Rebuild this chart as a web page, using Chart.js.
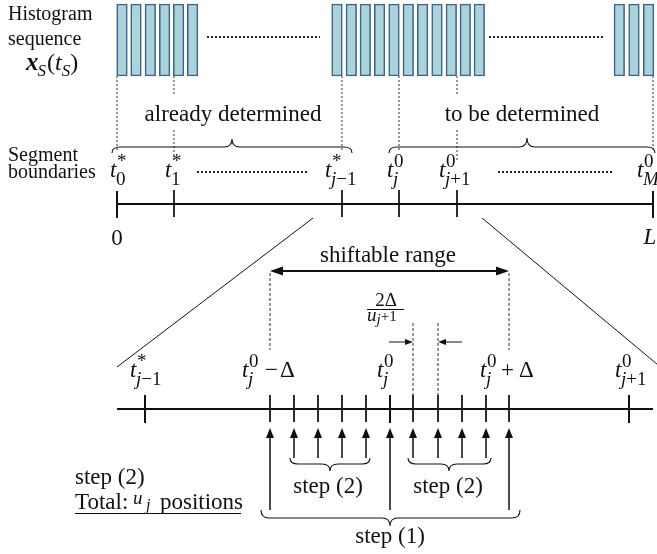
<!DOCTYPE html>
<html>
<head>
<meta charset="utf-8">
<script src="https://cdn.jsdelivr.net/npm/chart.js@4/dist/chart.umd.min.js"></script>
<style>
  html, body { margin: 0; padding: 0; background: #ffffff; }
  canvas { display: block; }
</style>
</head>
<body>
<canvas id="c" width="657" height="554"></canvas>
<script>
// Diagram coordinates: x runs 0..657, y runs 0..554 downward.

// Histogram sequence x_S(t_S): start of each bin in the three visible runs
const binStartsFirst  = [116.7, 130.7, 145, 159.3, 173.3, 187.3];
const binStartsMiddle = [331.7, 346, 360, 374.3, 388.7, 403, 417.3, 431.7, 446, 460, 474];
const binStartsLast   = [614, 628.7, 643.3];
const binSpan = [4, 76];          // top / bottom of every bin
const binWidth = 10.6;

// Segment boundaries on the signal axis: t0*, t1*, t*_{j-1}, t0_j, t0_{j+1}, t0_M
const boundaryX = [117, 174, 342, 399, 457, 653];
const boundaryEnds = [117, 653];  // 0 and L

// Zoomed axis around t0_j
const zoomMajorX  = [145, 390, 629];             // t*_{j-1}, t0_j, t0_{j+1}
const step1X      = [270, 390, 509];             // t0_j - Δ, t0_j, t0_j + Δ
const step2LeftX  = [294, 318, 342, 366];
const step2RightX = [413, 438, 462, 486];

const SERIF = '"Liberation Serif", "Times New Roman", "DejaVu Serif", serif';
const INK = '#111111';

function segs(list) {
  const out = [];
  list.forEach(([x1, y1, x2, y2]) => {
    out.push({ x: x1, y: y1 }, { x: x2, y: y2 }, { x: x2, y: null });
  });
  return out;
}
function lineSet(label, list, width, color, dash) {
  return {
    type: 'line', label, data: segs(list),
    borderColor: color, borderWidth: width, borderDash: dash || [],
    borderCapStyle: 'butt', pointRadius: 0, pointHoverRadius: 0,
    fill: false, tension: 0, spanGaps: false, clip: false
  };
}

const allBins = [...binStartsFirst, ...binStartsMiddle, ...binStartsLast];

// guide lines dropping from the bins to the boundary labels
const guideList = [];
[0, 2, 3, 5].forEach(i => guideList.push([boundaryX[i], binSpan[1], boundaryX[i], 150]));
[1, 4].forEach(i => {
  guideList.push([boundaryX[i], binSpan[1], boundaryX[i], 95]);
  guideList.push([boundaryX[i], 130, boundaryX[i], 160]);
});

const datasets = [
  {
    type: 'bar', label: 'bins',
    data: allBins.map(s => ({ x: s + binWidth / 2, y: binSpan })),
    backgroundColor: '#a9d4da', borderColor: '#41628f', borderWidth: 1.6,
    borderSkipped: false, barThickness: binWidth, grouped: true
  },
  lineSet('guides', guideList, 1, '#333333', [2, 2]),
  lineSet('ellipsis', [[207, 37, 320, 37], [489, 37, 605, 37], [197, 172, 308, 172], [498, 172, 613, 172]], 2.2, '#222222', [2, 2]),
  lineSet('axis', [[boundaryEnds[0], 204, boundaryEnds[1], 204]], 2, INK),
  lineSet('axisEnds', boundaryEnds.map(x => [x, 191, x, 218]), 2, INK),
  lineSet('axisTicks', boundaryX.slice(1, 5).map(x => [x, 190, x, 217]), 1, INK),
  lineSet('zoomLines', [[313, 218, 117, 367], [482, 218, 664, 370]], 1, INK),
  lineSet('rangeShaft', [[280, 271, 498, 271]], 2, INK),
  lineSet('rangeGuides', [[step1X[0], 273, step1X[0], 350], [step1X[2], 273, step1X[2], 350]], 1, '#333333', [3, 2]),
  lineSet('spacingGuides', [[step2RightX[0], 323, step2RightX[0], 397], [step2RightX[1], 323, step2RightX[1], 397]], 1, '#333333', [3, 2]),
  lineSet('spacingShafts', [[389, 342, 406, 342], [462, 342, 445, 342]], 1, INK),
  lineSet('zoomAxis', [[117, 409, 653, 409]], 2, INK),
  lineSet('zoomMajor', zoomMajorX.map(x => [x, 395, x, 423]), 2, INK),
  lineSet('zoomMinor', [step1X[0], ...step2LeftX, ...step2RightX, step1X[2]].map(x => [x, 395, x, 422]), 1, INK),
  lineSet('step2Shafts', [...step2LeftX, ...step2RightX].map(x => [x, 458, x, 437]), 1.5, INK),
  lineSet('step1Shafts', step1X.map(x => [x, 510, x, 437]), 1.5, INK)
];

function setFont(ctx, size, it, bold) {
  ctx.font = (it ? 'italic ' : '') + (bold ? 'bold ' : '') + size + 'px ' + SERIF;
}
function run(ctx, x, y, parts) {
  let cx = x;
  parts.forEach(p => {
    setFont(ctx, p.size, p.it, p.b);
    cx += p.dx || 0;
    ctx.fillText(p.t, cx, y + (p.dy || 0));
    cx += ctx.measureText(p.t).width;
  });
  return cx;
}
function tLabel(ctx, x, y, sup, sub) {
  setFont(ctx, 23, true);
  ctx.fillText('t', x, y);
  const w = ctx.measureText('t').width;
  run(ctx, x + w + 0.5, y - 10, [{ t: sup, size: 19 }]);
  run(ctx, x + w - 0.5, y + 8, sub.map(s => ({ t: s.t, size: 19, it: s.it })));
}
function brace(ctx, x1, x2, xm, y, dir, curl, tip) {
  // dir = -1: tip points up; dir = 1: tip points down
  const r = 8;
  ctx.beginPath();
  ctx.moveTo(x1, y - dir * curl);
  ctx.quadraticCurveTo(x1, y, x1 + r, y);
  ctx.lineTo(xm - r, y);
  ctx.quadraticCurveTo(xm, y, xm, y + dir * tip);
  ctx.quadraticCurveTo(xm, y, xm + r, y);
  ctx.lineTo(x2 - r, y);
  ctx.quadraticCurveTo(x2, y, x2, y - dir * curl);
  ctx.stroke();
}
function head(ctx, tx, ty, dx, dy, len, half) {
  const px = -dy, py = dx;
  ctx.beginPath();
  ctx.moveTo(tx, ty);
  ctx.lineTo(tx - dx * len + px * half, ty - dy * len + py * half);
  ctx.lineTo(tx - dx * len - px * half, ty - dy * len - py * half);
  ctx.closePath();
  ctx.fill();
}

const annotations = {
  id: 'annotations',
  beforeDraw(chart) {
    const c = chart.ctx;
    c.save();
    c.fillStyle = '#ffffff';
    c.fillRect(0, 0, chart.width, chart.height);
    c.restore();
  },
  afterDatasetsDraw(chart) {
    const ctx = chart.ctx;
    const xs = chart.scales.x, ys = chart.scales.y;
    const X = v => xs.getPixelForValue(v), Y = v => ys.getPixelForValue(v);
    ctx.save();
    ctx.fillStyle = INK;
    ctx.strokeStyle = INK;
    ctx.textBaseline = 'alphabetic';
    ctx.textAlign = 'left';

    // row titles
    setFont(ctx, 20);
    ctx.fillText('Histogram', X(8), Y(20));
    ctx.fillText('sequence', X(8), Y(45));
    ctx.fillText('Segment', X(8), Y(161));
    ctx.fillText('boundaries', X(8), Y(178));
    run(ctx, X(26), Y(70), [
      { t: 'x', size: 25, it: true, b: true },
      { t: 'S', size: 17, it: true, dy: 6, dx: -1 },
      { t: '(', size: 24, dx: 1 },
      { t: 't', size: 24, it: true },
      { t: 'S', size: 17, it: true, dy: 6 },
      { t: ')', size: 24 }
    ]);

    // group captions and braces
    setFont(ctx, 23);
    ctx.textAlign = 'center';
    ctx.fillText('already determined', X(233), Y(121));
    ctx.fillText('to be determined', X(522), Y(121));
    ctx.fillText('shiftable range', X(388), Y(262));
    ctx.fillText('step (2)', X(328), Y(493));
    ctx.fillText('step (2)', X(448), Y(493));
    ctx.fillText('step (1)', X(390), Y(543));
    ctx.fillText('0', X(117), Y(245));
    setFont(ctx, 23, true);
    ctx.fillText('L', X(650), Y(244));
    ctx.textAlign = 'left';

    ctx.lineWidth = 1.1;
    brace(ctx, X(112), X(352), X(232), Y(147), -1, 6, 8);
    brace(ctx, X(389), X(655), X(527), Y(147), -1, 6, 9);
    brace(ctx, X(290), X(370), X(330), Y(464), 1, 6, 7);
    brace(ctx, X(408), X(491), X(449), Y(464), 1, 6, 7);
    brace(ctx, X(261), X(520), X(390), Y(518), 1, 8, 8);

    // boundary labels on the signal axis
    const jm1 = [{ t: 'j', it: true }, { t: '−1' }];
    const j = [{ t: 'j', it: true }];
    const jp1 = [{ t: 'j', it: true }, { t: '+1' }];
    tLabel(ctx, X(110), Y(177), '*', [{ t: '0' }]);
    tLabel(ctx, X(165), Y(177), '*', [{ t: '1' }]);
    tLabel(ctx, X(325), Y(177), '*', jm1);
    tLabel(ctx, X(387), Y(177), '0', j);
    tLabel(ctx, X(439), Y(177), '0', jp1);
    tLabel(ctx, X(637), Y(177), '0', [{ t: 'M', it: true }]);

    // labels on the zoomed axis
    tLabel(ctx, X(130), Y(377), '*', jm1);
    tLabel(ctx, X(242), Y(377), '0', j);
    run(ctx, X(265), Y(377), [{ t: '−', size: 23 }]);
    run(ctx, X(280), Y(377), [{ t: 'Δ', size: 23 }]);
    tLabel(ctx, X(377), Y(377), '0', j);
    tLabel(ctx, X(480), Y(377), '0', j);
    run(ctx, X(501), Y(377), [{ t: '+', size: 23 }]);
    run(ctx, X(519), Y(377), [{ t: 'Δ', size: 23 }]);
    tLabel(ctx, X(615), Y(377), '0', jp1);

    // spacing 2Δ/(u_j+1)
    setFont(ctx, 19);
    ctx.textAlign = 'center';
    ctx.fillText('2Δ', X(386), Y(306));
    ctx.textAlign = 'left';
    ctx.lineWidth = 1;
    ctx.beginPath();
    ctx.moveTo(X(367), Y(309.5));
    ctx.lineTo(X(404), Y(309.5));
    ctx.stroke();
    run(ctx, X(367), Y(321), [
      { t: 'u', size: 19, it: true },
      { t: 'j', size: 15, it: true, dy: 3 },
      { t: '+1', size: 15 }
    ]);

    // note on the left
    run(ctx, X(75), Y(484), [{ t: 'step (2)', size: 23 }]);
    run(ctx, X(75), Y(509), [{ t: 'Total:', size: 23 }]);
    run(ctx, X(133), Y(504), [{ t: 'u', size: 19, it: true }]);
    run(ctx, X(146), Y(510), [{ t: 'j', size: 16, it: true }]);
    run(ctx, X(160), Y(509), [{ t: 'positions', size: 23 }]);
    ctx.lineWidth = 1.2;
    ctx.beginPath();
    ctx.moveTo(X(75), Y(513.5));
    ctx.lineTo(X(241), Y(513.5));
    ctx.stroke();

    // arrowheads
    head(ctx, X(step1X[0]), Y(271), -1, 0, 13, 4.5);
    head(ctx, X(step1X[2]), Y(271), 1, 0, 13, 4.5);
    head(ctx, X(step2RightX[0]), Y(342), 1, 0, 8, 3);
    head(ctx, X(step2RightX[1]), Y(342), -1, 0, 8, 3);
    [...step1X, ...step2LeftX, ...step2RightX].forEach(x => head(ctx, X(x), Y(428), 0, -1, 10, 4));

    ctx.restore();
  }
};

new Chart(document.getElementById('c'), {
  type: 'scatter',
  data: { datasets },
  options: {
    responsive: false,
    animation: false,
    events: [],
    layout: { padding: 0 },
    plugins: { legend: { display: false }, tooltip: { enabled: false } },
    scales: {
      x: { type: 'linear', min: 0, max: 657, display: false, offset: false },
      y: { type: 'linear', min: 0, max: 554, reverse: true, display: false }
    }
  },
  plugins: [annotations]
});
</script>
</body>
</html>
